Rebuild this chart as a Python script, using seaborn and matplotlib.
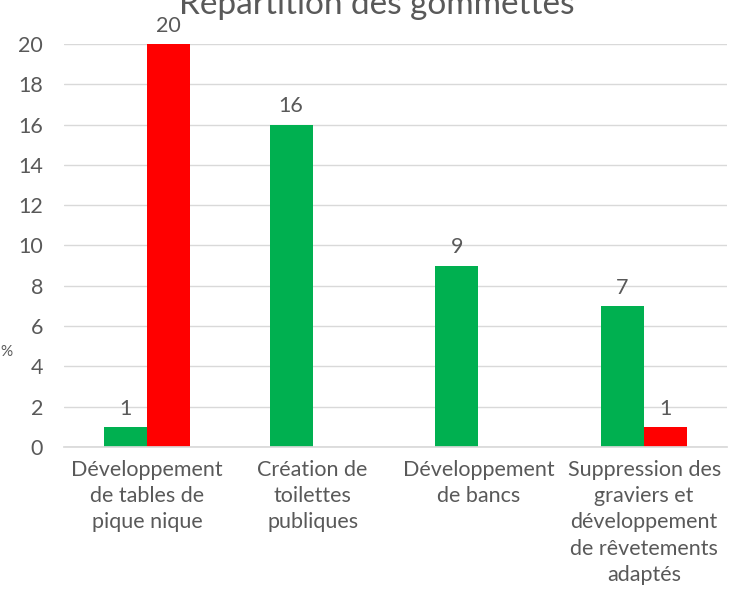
import numpy as np
import pandas as pd
import matplotlib
matplotlib.use("Agg")
import matplotlib.pyplot as plt
import seaborn as sns

# Chart data
CATEGORIES = [
    "Développement\nde tables de\npique nique",
    "Création de\ntoilettes\npubliques",
    "Développement\nde bancs",
    "Suppression des\ngraviers et\ndéveloppement\nde rêvetements\nadaptés",
]
GREEN_VALUES = [1, 16, 9, 7]
RED_VALUES = [20, np.nan, np.nan, 1]
SERIES = ["Gommettes vertes", "Gommettes rouges"]
Y_TICKS = list(range(0, 21, 2))

TEXT_COLOR = "#595959"
COLORS = ["#00B050", "#FF0000"]

sns.set_theme(style="white")
plt.rcParams["font.family"] = ["Lato", "DejaVu Sans"]

df = pd.DataFrame({
    "Catégorie": CATEGORIES * 2,
    "Série": [SERIES[0]] * len(CATEGORIES) + [SERIES[1]] * len(CATEGORIES),
    "Valeur": GREEN_VALUES + RED_VALUES,
})

fig = plt.figure(figsize=(7.29, 6.03), dpi=100)
ax = fig.add_axes([64 / 729, 1 - 447 / 603, (727 - 64) / 729, (447 - 44) / 603])

sns.barplot(data=df, x="Catégorie", y="Valeur", hue="Série", palette=COLORS,
            width=0.52, saturation=1, legend=False, ax=ax, errorbar=None,
            linewidth=0)

for container in ax.containers:
    vals = [b.get_height() for b in container]
    labels = ["" if (v != v) else f"{v:.0f}" for v in vals]
    ax.bar_label(container, labels=labels, padding=6, fontsize=15.5, color=TEXT_COLOR)

ax.set_xlim(-0.5, 3.5)
ax.set_ylim(0, 20)
ax.set_yticks(Y_TICKS)
ax.yaxis.grid(True, color="#D9D9D9", linewidth=1)
ax.set_axisbelow(True)
for side in ["top", "right", "left"]:
    ax.spines[side].set_visible(False)
ax.spines["bottom"].set_color("#D9D9D9")
ax.tick_params(axis="both", length=0, labelsize=15.5, colors=TEXT_COLOR)
ax.tick_params(axis="y", pad=15)
ax.tick_params(axis="x", pad=9)
for lbl in ax.get_xticklabels():
    lbl.set_linespacing(1.4)
ax.set_xlabel("")
ax.set_ylabel("")

fig.text(0.0, 1 - 352 / 603, "%", fontsize=11, color=TEXT_COLOR, va="center", ha="left")
fig.text(377 / 729, 1 - 14 / 603, "Répartition des gommettes", fontsize=24,
         color=TEXT_COLOR, ha="center", va="baseline")

fig.savefig("out.png", dpi=100)
